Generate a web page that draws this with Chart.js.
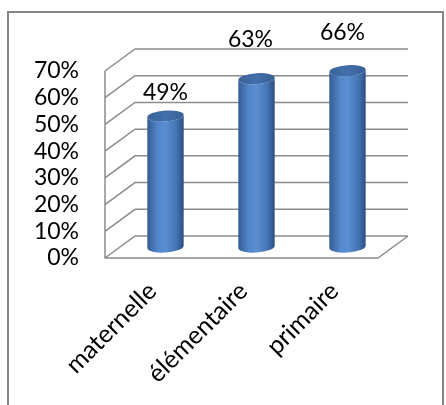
<!DOCTYPE html>
<html>
<head>
<meta charset="utf-8">
<script src="https://cdn.jsdelivr.net/npm/chart.js@4.4.0/dist/chart.umd.min.js"></script>
<style>
  html, body { margin: 0; padding: 0; background: #fff; }
  #wrap { width: 446px; height: 405px; }
</style>
</head>
<body>
<div id="wrap"><canvas id="chart"></canvas></div>
<script>
// données
const categories = ['maternelle', 'élémentaire', 'primaire'];
const values = [49, 63, 66];
const yTicks = [0, 10, 20, 30, 40, 50, 60, 70];

// profondeur de la fausse 3D (mur du fond = plan avant décalé)
const DX = 30, DY = -22;
const FONT = { family: 'Lato', size: 23 };
const CAT_FONT = '25px Lato';

// ================== MURS & SOL ==================
const wallsPlugin = {
  id: 'walls',
  beforeDraw(chart) {
    const { ctx } = chart;
    ctx.save();
    ctx.fillStyle = '#fff';
    ctx.fillRect(0, 0, chart.width, chart.height);
    ctx.strokeStyle = '#868686';
    ctx.lineWidth = 2;
    ctx.strokeRect(8, 12, 435, 500); // cadre du graphique
    ctx.restore();
  },
  beforeDatasetsDraw(chart) {
    const { ctx, chartArea: a, scales: { y } } = chart;
    const p0 = y.getPixelForValue(0);
    const pMax = y.getPixelForValue(yTicks[yTicks.length - 1]);
    ctx.save();
    ctx.strokeStyle = '#8c8c8c';
    ctx.lineWidth = 1.5;
    ctx.beginPath();
    yTicks.forEach(t => {
      const py = y.getPixelForValue(t);
      ctx.moveTo(a.left, py);
      ctx.lineTo(a.left + DX, py + DY);
      ctx.lineTo(a.right + DX, py + DY);
    });
    ctx.moveTo(a.left, pMax);
    ctx.lineTo(a.left, p0);
    ctx.lineTo(a.right, p0);
    ctx.lineTo(a.right + DX, p0 + DY);
    ctx.stroke();
    ctx.restore();
  },
  afterDraw(chart) {
    // étiquettes de catégories inclinées à 45°
    const { ctx, chartArea: a, scales: { x } } = chart;
    ctx.save();
    ctx.fillStyle = '#000';
    ctx.font = CAT_FONT;
    ctx.textAlign = 'right';
    ctx.textBaseline = 'middle';
    categories.forEach((c, i) => {
      ctx.save();
      ctx.translate(x.getPixelForValue(i) + 2, a.bottom + 29);
      ctx.rotate(-Math.PI / 4);
      ctx.fillText(c, 0, 0);
      ctx.restore();
    });
    ctx.restore();
  }
};

// ================== CYLINDRES ==================
const TILT = -0.07;
const cylinderPlugin = {
  id: 'cylinders',
  afterDatasetsDraw(chart, args, opts) {
    const { ctx } = chart;
    const meta = chart.getDatasetMeta(0);
    ctx.save();
    meta.data.forEach((bar, i) => {
      const cx = bar.x + DX / 2, top = bar.y + DY / 2, bot = bar.base + DY / 2;
      const rx = bar.width / 2, ry = 5.5;

      const g = ctx.createLinearGradient(cx - rx, 0, cx + rx, 0);
      g.addColorStop(0, '#355d94');
      g.addColorStop(0.3, '#5487cb');
      g.addColorStop(0.5, '#5a8ed3');
      g.addColorStop(0.8, '#4574b4');
      g.addColorStop(1, '#2c4e7f');
      ctx.beginPath();
      ctx.moveTo(cx - rx, top);
      ctx.lineTo(cx - rx, bot);
      ctx.ellipse(cx, bot, rx, ry, TILT, Math.PI, 0, true);
      ctx.lineTo(cx + rx, top);
      ctx.ellipse(cx, top, rx, ry, TILT, 0, Math.PI, false);
      ctx.closePath();
      ctx.fillStyle = g;
      ctx.fill();

      const gt = ctx.createLinearGradient(cx - rx, 0, cx + rx, 0);
      gt.addColorStop(0, '#3a6399');
      gt.addColorStop(0.5, '#4270ab');
      gt.addColorStop(1, '#375e92');
      ctx.beginPath();
      ctx.ellipse(cx, top, rx, ry, TILT, 0, Math.PI * 2);
      ctx.fillStyle = gt;
      ctx.fill();

      // étiquette de valeur
      const n = opts.nudge[i] || { dx: 0, dy: -30 };
      ctx.fillStyle = '#000';
      ctx.font = `${FONT.size}px ${FONT.family}`;
      ctx.textAlign = 'center';
      ctx.textBaseline = 'middle';
      ctx.fillText(values[i] + '%', cx + n.dx, top + n.dy);
    });
    ctx.restore();
  }
};

new Chart(document.getElementById('chart'), {
  type: 'bar',
  data: {
    labels: categories,
    datasets: [{
      data: values,
      backgroundColor: 'rgba(0,0,0,0)',
      borderWidth: 0,
      categoryPercentage: 1,
      barPercentage: 0.4
    }]
  },
  options: {
    responsive: true,
    maintainAspectRatio: false,
    animation: false,
    layout: { padding: { top: 71, right: 68, left: 0, bottom: 0 } },
    plugins: {
      legend: { display: false },
      tooltip: { enabled: false },
      cylinders: { nudge: [{ dx: 0, dy: -24 }, { dx: -6, dy: -39 }, { dx: -5, dy: -38 }] }
    },
    scales: {
      x: {
        grid: { display: false, drawTicks: false },
        border: { display: false },
        ticks: { display: false },
        afterFit: s => { s.height = 147; }
      },
      y: {
        min: 0, max: 70,
        grid: { display: false, drawTicks: false },
        border: { display: false },
        ticks: { stepSize: 10, autoSkip: false, color: '#000', font: FONT, padding: 26, callback: v => v + '%' },
        afterFit: s => { s.width = 105; }
      }
    }
  },
  plugins: [wallsPlugin, cylinderPlugin]
});
</script>
</body>
</html>
